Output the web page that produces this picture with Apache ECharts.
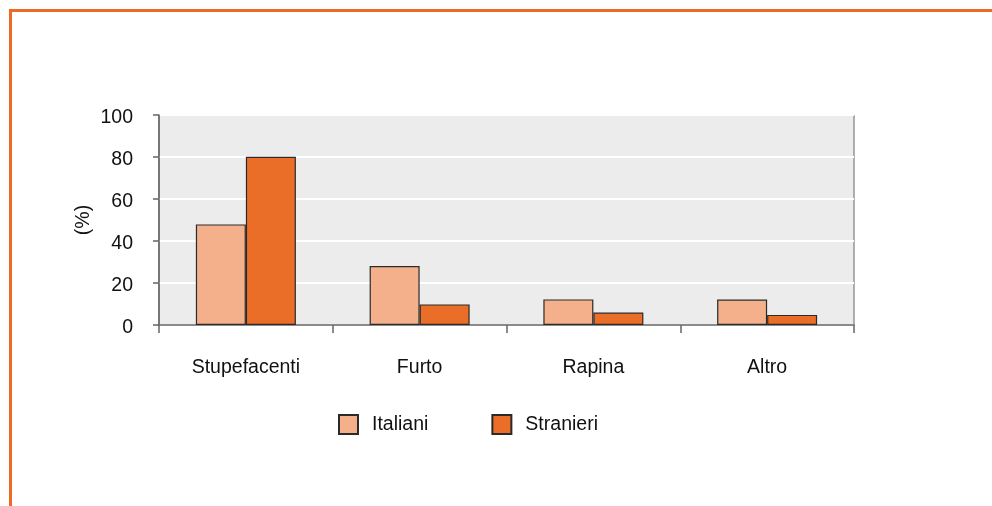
<!DOCTYPE html>
<html>
<head>
<meta charset="utf-8">
<script src="https://cdn.jsdelivr.net/npm/echarts@6/dist/echarts.min.js"></script>
<style>html,body{margin:0;padding:0;background:#fff}#c{width:992px;height:506px}</style>
</head>
<body>
<div id="c"></div>
<script>
const categories = ['Stupefacenti', 'Furto', 'Rapina', 'Altro'];
const italiani = [47.9, 28.1, 12.2, 12.1];
const stranieri = [80.1, 9.8, 5.9, 4.8];
const yTicks = [0, 20, 40, 60, 80, 100];

const chart = echarts.init(document.getElementById('c'));
const font = '"Liberation Sans", Arial, Helvetica, sans-serif';
const fs = 19.5;
chart.setOption({
  animation: false,
  backgroundColor: '#fff',
  textStyle: { fontFamily: font },
  graphic: [{
    type: 'polyline',
    shape: { points: [[10.5, 506], [10.5, 10.5], [992, 10.5]] },
    style: { stroke: '#EE6A22', lineWidth: 3, fill: null }
  }],
  grid: {
    left: 159, right: 138, top: 115, bottom: 181,
    show: true, backgroundColor: '#EBECEB', borderColor: '#666', borderWidth: 1
  },
  legend: {
    left: 333, top: 409,
    itemWidth: 19, itemHeight: 19, itemGap: 63,
    icon: 'rect',
    textStyle: { fontSize: fs, color: '#111', fontFamily: font, padding: [0, 0, 0, 9] },
    data: ['Italiani', 'Stranieri']
  },
  xAxis: {
    type: 'category',
    data: categories,
    boundaryGap: true,
    axisLine: { lineStyle: { color: '#666', width: 1.5 } },
    axisTick: { show: true, length: 8, lineStyle: { color: '#666', width: 1.5 } },
    axisLabel: { margin: 33, fontSize: fs, color: '#111', fontFamily: font }
  },
  yAxis: {
    type: 'value',
    min: 0, max: 100, interval: 20,
    name: '(%)', nameLocation: 'middle', nameGap: 65, nameRotate: 90, nameMoveOverlap: false,
    nameTextStyle: { fontSize: fs, color: '#111', fontFamily: font },
    axisLine: { show: true, lineStyle: { color: '#666', width: 1.5 } },
    axisTick: { show: true, length: 6, lineStyle: { color: '#666', width: 1.5 } },
    axisLabel: { margin: 26, fontSize: fs, color: '#111', fontFamily: font,
      formatter: v => yTicks.includes(v) ? '{a|' + v + '}' : '',
      rich: { a: { fontSize: fs, color: '#111', fontFamily: font, padding: [6, 0, 0, 0] } } },
    splitLine: { show: true, lineStyle: { color: '#fff', width: 2 } }
  },
  series: [{
    name: 'Italiani', type: 'bar', data: italiani,
    barWidth: 50, barGap: '0%',
    itemStyle: { color: '#F4B08A', borderColor: '#2a2a2a', borderWidth: 1.2 }
  }, {
    name: 'Stranieri', type: 'bar', data: stranieri,
    barWidth: 50, barGap: '0%',
    itemStyle: { color: '#EA6E28', borderColor: '#2a2a2a', borderWidth: 1.2 }
  }]
});
</script>
</body>
</html>
